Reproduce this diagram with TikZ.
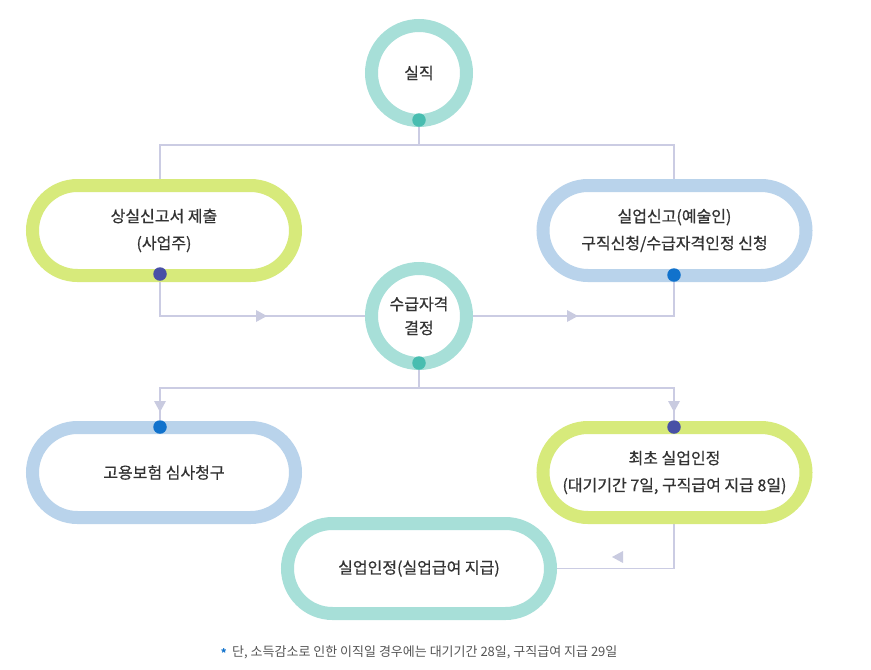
\documentclass[tikz,border=0pt]{standalone}
\usepackage{fontspec}
\setmainfont{Noto Sans CJK KR}
\newfontfamily\medfont{Noto Sans CJK KR}[FakeBold=0.6]
\usetikzlibrary{shapes.misc,backgrounds}
\definecolor{limec}{HTML}{D7EA7B}
\definecolor{bluec}{HTML}{B9D3EB}
\definecolor{ringc}{HTML}{A7DFD8}
\definecolor{tealdot}{HTML}{48BDB0}
\definecolor{navydot}{HTML}{4850A6}
\definecolor{bluedot}{HTML}{1172CC}
\definecolor{linec}{HTML}{CBCCE3}
\definecolor{arrowc}{HTML}{C9CBE0}
\definecolor{txt}{HTML}{333333}
\definecolor{fntxt}{HTML}{555555}
\tikzset{
  pill/.style={rounded rectangle, draw, fill=white, line width=13pt, minimum width=263pt,
    minimum height=90pt, inner sep=0pt, align=center, text=txt,
    font=\medfont\fontsize{16}{27}\selectfont},
  ring/.style={circle, draw=ringc, fill=white, line width=13pt, minimum size=95pt, inner sep=0pt,
    align=center, text=txt, font=\medfont\fontsize{16}{24}\selectfont},
  dotn/.style={circle, inner sep=0pt, minimum size=13.5pt},
  conn/.style={draw=linec, line width=1.2pt},
  tri/.pic={\fill[arrowc] (-5,-6) -- (6,0) -- (-5,6) -- cycle;}
}
\begin{document}
\begin{tikzpicture}[x=1pt,y=-1pt]
\useasboundingbox (0,0) rectangle (871,670);

% main nodes
\node[ring] (c1) at (419,73) {실직};
\node[pill, draw=limec] (p1) at (164,230.5) {상실신고서 제출\\(사업주)};
\node[pill, draw=bluec] (p2) at (674.5,230.5) {실업신고(예술인)\\구직신청/수급자격인정 신청};
\node[ring] (c2) at (419,316) {수급자격\\결정};
\node[pill, draw=bluec] (p3) at (164,472.5) {고용보험 심사청구};
\node[pill, draw=limec] (p4) at (674.5,472.5) {최초 실업인정\\(대기기간 7일, 구직급여 지급 8일)};
\node[pill, draw=ringc] (p5) at (419,568.5) {실업인정(실업급여 지급)};

% dots
\node[dotn, fill=tealdot] (dc1) at (419,120) {};
\node[dotn, fill=navydot] (dp1) at (160,274) {};
\node[dotn, fill=bluedot] (dp2) at (674,275) {};
\node[dotn, fill=tealdot] (dc2) at (419,363) {};
\node[dotn, fill=bluedot] (dp3) at (160,427) {};
\node[dotn, fill=navydot] (dp4) at (674,427) {};

% junctions
\coordinate (j1) at (419,145);
\coordinate (j2) at (419,388);

\begin{scope}[on background layer]
\draw[conn] (dc1) -- (j1);
\draw[conn] (j1) -| (dp1 |- p1.north);
\draw[conn] (j1) -| (dp2 |- p2.north);
\draw[conn] (dp1) |- (c2.west);
\draw[conn] (c2.east) -| (dp2);
\draw[conn] (dc2) -- (j2);
\draw[conn] (j2) -| (dp3);
\draw[conn] (j2) -| (dp4);
\draw[conn] (dp4 |- p4.south) |- (p5.east);
\end{scope}

% arrowheads
\pic at (261,316) {tri};
\pic at (572,316) {tri};
\pic[rotate=-90] at (160,406) {tri};
\pic[rotate=-90] at (674,406) {tri};
\pic[rotate=180] at (618,557) {tri};

% footnote
\node[anchor=west, text=fntxt, font=\fontsize{13}{15}\selectfont, inner sep=0pt] (fn) at (232,652)
  {단, 소득감소로 인한 이직일 경우에는 대기기간 28일, 구직급여 지급 29일};
\node[anchor=east, text=bluedot, font=\fontsize{11}{12}\bfseries\selectfont, inner sep=0pt] (star) at ([xshift=-5pt,yshift=-1pt]fn.west) {*};
\end{tikzpicture}
\end{document}
